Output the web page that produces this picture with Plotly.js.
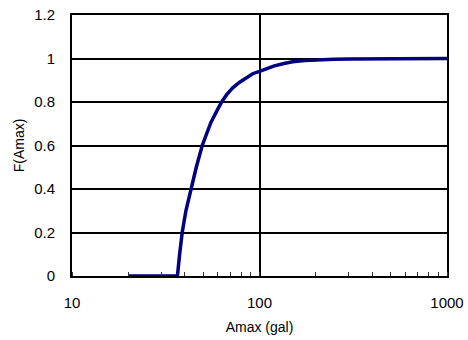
<!DOCTYPE html>
<html>
<head>
<meta charset="utf-8">
<script src="https://cdn.plot.ly/plotly-3.0.1.min.js"></script>
<style>html,body{margin:0;padding:0;background:#fff;}#chart{width:468px;height:340px;}</style>
</head>
<body>
<div id="chart"></div>
<script>
// Amax (gal) values and cumulative probability F(Amax)
const amax = [20, 36.5, 37.5, 38.7, 40.5, 43, 46, 49.5, 52, 55, 58.5, 62.8, 67, 72, 78, 85, 92, 100, 110, 120, 135, 150, 175, 200, 250, 300, 400, 500, 1000];
const fAmax = [0, 0, 0.1, 0.2, 0.3, 0.4, 0.5, 0.6, 0.655, 0.705, 0.75, 0.8, 0.835, 0.865, 0.89, 0.913, 0.93, 0.941, 0.955, 0.966, 0.977, 0.985, 0.991, 0.994, 0.997, 0.998, 0.999, 1.0, 1.0];
const yTicks = [0, 0.2, 0.4, 0.6, 0.8, 1, 1.2];
const yTickText = ['0', '0.2', '0.4', '0.6', '0.8', '1', '1.2'];
const xTicks = [10, 100, 1000];
const xTickText = ['10', '100', '1000'];

const font = {family: 'Liberation Sans, Arial, sans-serif', size: 15, color: '#000'};

Plotly.newPlot('chart', [{
  x: amax, y: fAmax, type: 'scatter', mode: 'lines',
  line: {color: '#000080', width: 3.5, shape: 'linear'},
  cliponaxis: false, hoverinfo: 'skip'
}], {
  width: 468, height: 340,
  margin: {l: 72, r: 21, t: 15, b: 64},
  paper_bgcolor: '#fff', plot_bgcolor: '#fff',
  showlegend: false,
  font: font,
  xaxis: {
    type: 'log', range: [1, 3],
    tickvals: xTicks, ticktext: xTickText,
    ticks: '', ticklabelstandoff: 12,
    showgrid: true, gridcolor: '#000', gridwidth: 2,
    showline: true, linecolor: '#000', linewidth: 2, mirror: true,
    zeroline: false,
    minor: {ticks: 'inside', ticklen: 4, tickcolor: '#333', tickwidth: 1, dtick: 'D1', showgrid: false},
    tickfont: {family: font.family, size: 15, color: '#000'},
    title: {text: 'Amax (gal)', font: {family: font.family, size: 14, color: '#000'}, standoff: 12}
  },
  yaxis: {
    range: [0, 1.2],
    tickvals: yTicks, ticktext: yTickText,
    ticks: '', ticklabelstandoff: 12,
    showgrid: true, gridcolor: '#000', gridwidth: 2,
    showline: true, linecolor: '#000', linewidth: 2, mirror: true,
    zeroline: false,
    tickfont: {family: font.family, size: 15, color: '#000'},
    title: {text: 'F(Amax)', font: {family: font.family, size: 14, color: '#000'}, standoff: 6}
  }
}, {staticPlot: true});
</script>
</body>
</html>
